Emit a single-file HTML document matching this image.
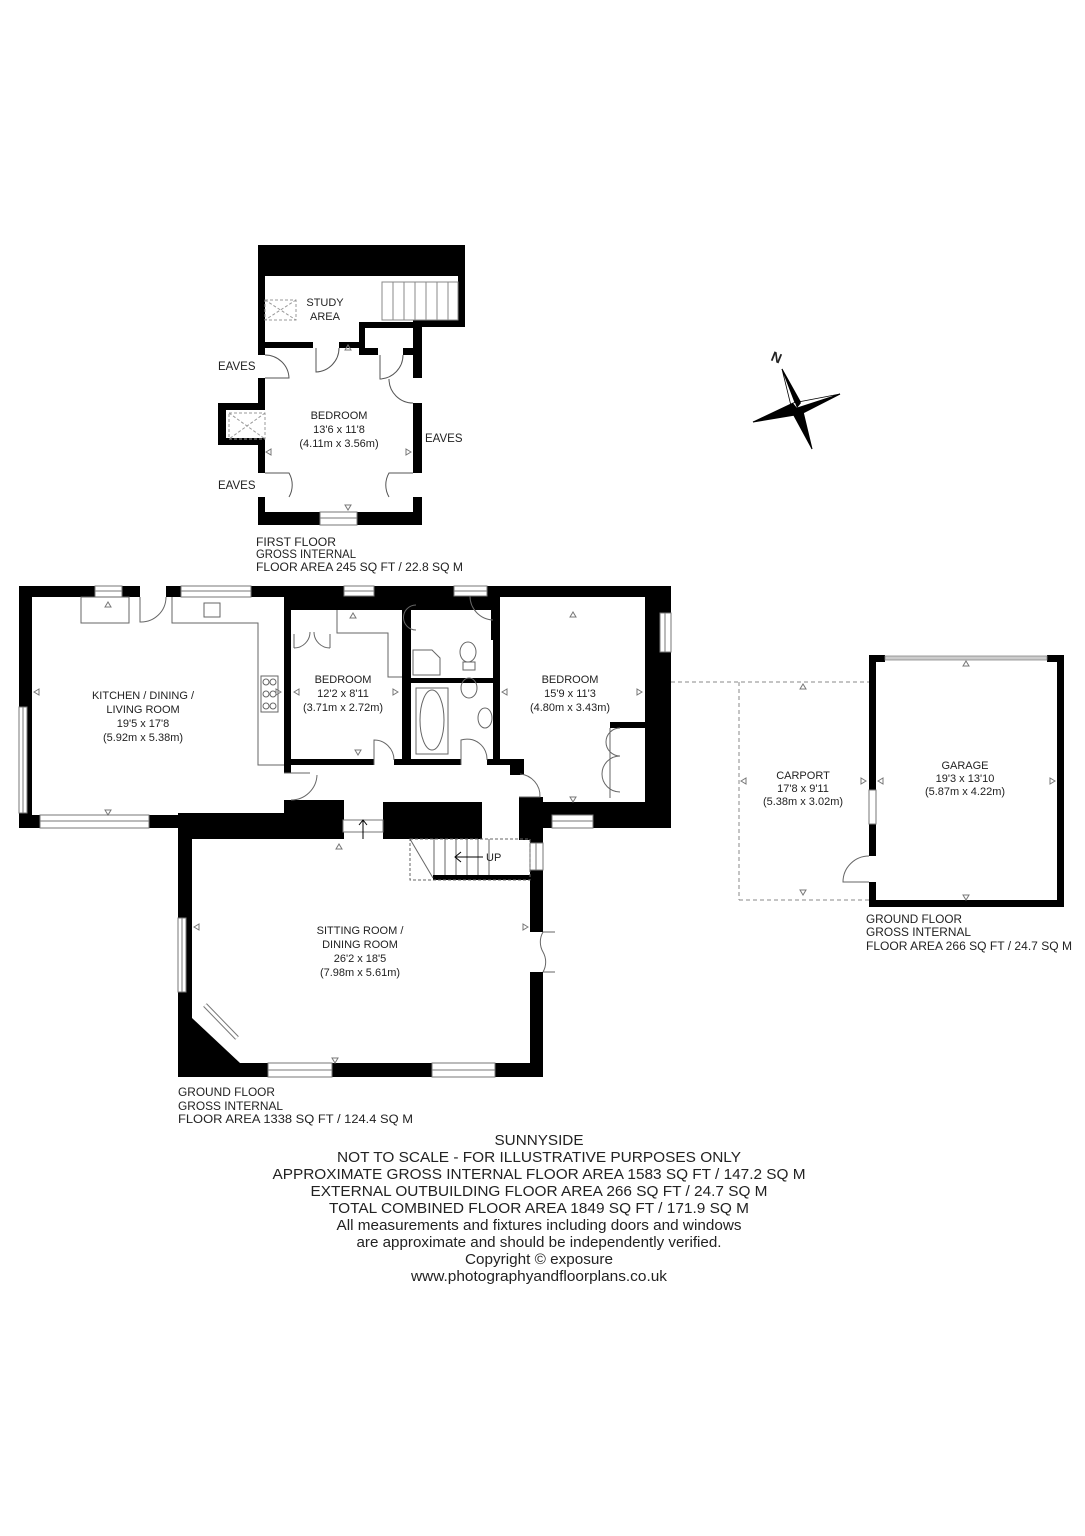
<!DOCTYPE html>
<html><head><meta charset="utf-8"><style>
html,body{margin:0;padding:0;background:#fff}
svg{display:block}
text{font-family:"Liberation Sans",Arial,sans-serif;fill:#222}
</style></head><body>
<svg width="1085" height="1536" viewBox="0 0 1085 1536" xmlns="http://www.w3.org/2000/svg">
<rect width="1085" height="1536" fill="#fff"/>

<!-- ============ FIRST FLOOR ============ -->
<g fill="#000">
  <rect x="258" y="245" width="207" height="31"/>
  <rect x="458" y="245" width="7" height="82"/>
  <rect x="413" y="320" width="52" height="7"/>
  <rect x="258" y="245" width="7" height="110"/>
  <rect x="258" y="378" width="7" height="32"/>
  <rect x="218" y="403" width="47" height="7"/>
  <rect x="218" y="403" width="8" height="42"/>
  <rect x="218" y="438" width="47" height="7"/>
  <rect x="258" y="438" width="7" height="35"/>
  <rect x="258" y="497" width="7" height="28"/>
  <rect x="258" y="512" width="164" height="13"/>
  <rect x="413" y="320" width="9" height="58"/>
  <rect x="413" y="403" width="9" height="70"/>
  <rect x="413" y="497" width="9" height="28"/>
  <rect x="264" y="342" width="49" height="6"/>
  <rect x="339" y="342" width="26" height="6"/>
  <rect x="359" y="322" width="6" height="33"/>
  <rect x="359" y="322" width="63" height="6"/>
  <rect x="359" y="348" width="19" height="7"/>
  <rect x="403" y="348" width="19" height="7"/>
</g>
<g fill="#fff" stroke="#888" stroke-width="1">
  <rect x="382" y="282" width="76" height="38"/>
  <line x1="393" y1="282" x2="393" y2="320"/><line x1="404" y1="282" x2="404" y2="320"/>
  <line x1="415" y1="282" x2="415" y2="320"/><line x1="426" y1="282" x2="426" y2="320"/>
  <line x1="437" y1="282" x2="437" y2="320"/><line x1="448" y1="282" x2="448" y2="320"/>
</g>
<g fill="none" stroke="#999" stroke-dasharray="3,2">
  <rect x="265" y="300" width="31" height="20"/><line x1="265" y1="300" x2="296" y2="320"/><line x1="296" y1="300" x2="265" y2="320"/>
  <rect x="229" y="413" width="36" height="26"/><line x1="229" y1="413" x2="265" y2="439"/><line x1="265" y1="413" x2="229" y2="439"/>
</g>
<g fill="none" stroke="#555" stroke-width="1">
  <path d="M265 378 L289 378 A24 24 0 0 0 265 355"/>
  <path d="M265 473 L289 473 A24 24 0 0 1 289 497"/>
  <path d="M413 473 L389 473 A24 24 0 0 0 389 497"/>
  <path d="M413 403 A24 24 0 0 1 389 379"/>
  <path d="M316 348 L316 372 A24 24 0 0 0 339 348"/>
  <path d="M380 355 L380 379 A24 24 0 0 0 403 355"/>
</g>
<rect x="320" y="512" width="37" height="13" fill="#fff" stroke="#777"/>
<line x1="320" y1="518" x2="357" y2="518" stroke="#777"/>
<g fill="none" stroke="#777"><path d="M345 350 l3 -5 l3 5z"/><path d="M266 452 l5 -3 l0 6z"/><path d="M411 452 l-5 -3 l0 6z"/><path d="M345 505 l3 5 l3 -5z"/></g>
<g font-size="11" text-anchor="middle">
  <text x="325" y="306">STUDY</text><text x="325" y="320">AREA</text>
  <text x="339" y="419">BEDROOM</text><text x="339" y="433">13'6 x 11'8</text><text x="339" y="447">(4.11m x 3.56m)</text>
</g>
<g font-size="11.5">
  <text x="218" y="370">EAVES</text><text x="425" y="442">EAVES</text><text x="218" y="489">EAVES</text>
  <text x="256" y="546" textLength="80" lengthAdjust="spacingAndGlyphs">FIRST FLOOR</text>
  <text x="256" y="558" textLength="100" lengthAdjust="spacingAndGlyphs">GROSS INTERNAL</text>
  <text x="256" y="571" textLength="207" lengthAdjust="spacingAndGlyphs">FLOOR AREA 245 SQ FT / 22.8 SQ M</text>
</g>

<!-- compass -->
<g>
  <polygon points="782,369 797,408 812,449 801,403" fill="#000" stroke="#000"/>
  <polygon points="782,369 797,408 812,449 793,414" fill="#fff" stroke="#000" stroke-width="0.8"/>
  <polygon points="840,394 797,408 753,422 801,414" fill="#000" stroke="#000"/>
  <polygon points="840,394 797,408 753,422 793,403" fill="#fff" stroke="#000" stroke-width="0.8"/>
  <polygon points="782,369 801,403 797,408" fill="#000"/>
  <polygon points="812,449 793,414 797,408" fill="#000"/>
  <polygon points="840,394 801,414 797,408" fill="#000"/>
  <polygon points="753,422 793,403 797,408" fill="#000"/>
  <text x="0" y="0" font-size="14" font-weight="bold" transform="translate(770,360) rotate(22)">N</text>
</g>

<!-- ============ GROUND FLOOR MAIN ============ -->
<g fill="#000">
  <rect x="19" y="586" width="121" height="11"/>
  <rect x="166" y="586" width="505" height="11"/>
  <rect x="19" y="586" width="13" height="242"/>
  <rect x="19" y="815" width="268" height="13"/>
  <rect x="284" y="597" width="7" height="176"/>
  <rect x="284" y="800" width="60" height="39"/>
  <rect x="178" y="813" width="165" height="26"/>
  <rect x="291" y="597" width="209" height="13"/>
  <rect x="402" y="597" width="9" height="168"/>
  <rect x="291" y="759" width="83" height="6"/>
  <rect x="394" y="759" width="67" height="6"/>
  <rect x="411" y="678" width="82" height="5"/>
  <rect x="487" y="759" width="37" height="6"/>
  <rect x="493" y="597" width="7" height="168"/>
  <rect x="491" y="597" width="9" height="43"/>
  <rect x="645" y="586" width="26" height="242"/>
  <rect x="524" y="802" width="147" height="26"/>
  <rect x="510" y="765" width="14" height="10"/>
  <rect x="519" y="797" width="24" height="43"/>
  <rect x="610" y="722" width="35" height="6"/>
  <rect x="383" y="802" width="99" height="37"/>
  <rect x="178" y="813" width="14" height="264"/>
  <rect x="178" y="1063" width="365" height="14"/>
  <rect x="530" y="840" width="13" height="92"/>
  <rect x="530" y="972" width="13" height="105"/>
  <rect x="433" y="875" width="97" height="5"/>
  <polygon points="192,1018 240,1063 192,1063"/>
</g>
<g fill="#000">
  <polygon points="335,597 344,610 374,610 383,597"/>
  <polygon points="445,597 454,610 487,610 496,597"/>
  <polygon points="645,600 658,613 658,652 645,662"/>
  <polygon points="543,815 552,802 593,802 602,815"/>
</g>
<g fill="#fff" stroke="#777" stroke-width="1">
  <rect x="95" y="586" width="27" height="11"/><line x1="95" y1="591" x2="122" y2="591"/>
  <rect x="181" y="586" width="70" height="11"/><line x1="181" y1="591" x2="251" y2="591"/>
  <rect x="344" y="586" width="30" height="10"/><line x1="344" y1="591" x2="374" y2="591"/>
  <rect x="454" y="586" width="33" height="10"/><line x1="454" y1="591" x2="487" y2="591"/>
  <rect x="660" y="613" width="11" height="39"/><line x1="665" y1="613" x2="665" y2="652"/>
  <rect x="552" y="815" width="41" height="13"/><line x1="552" y1="821" x2="593" y2="821"/>
  <rect x="19" y="707" width="8" height="106"/><line x1="23" y1="707" x2="23" y2="813"/>
  <rect x="40" y="815" width="109" height="13"/><line x1="40" y1="821" x2="149" y2="821"/>
  <rect x="530" y="843" width="13" height="27"/><line x1="536" y1="843" x2="536" y2="870"/>
  <rect x="178" y="918" width="8" height="74"/><line x1="182" y1="918" x2="182" y2="992"/>
  <rect x="268" y="1063" width="64" height="14"/><line x1="268" y1="1070" x2="332" y2="1070"/>
  <rect x="432" y="1063" width="63" height="14"/><line x1="432" y1="1070" x2="495" y2="1070"/>
  <rect x="343" y="820" width="40" height="12"/>
</g>
<line x1="205" y1="1005" x2="237" y2="1038" stroke="#777" stroke-width="5"/>
<line x1="205" y1="1005" x2="237" y2="1038" stroke="#fff" stroke-width="3"/>
<g fill="none" stroke="#666" stroke-width="1">
  <rect x="81" y="597" width="48" height="26"/>
  <polyline points="172,597 172,623 258,623 258,765 284,765"/>
  <rect x="204" y="603" width="16" height="14"/>
  <rect x="261" y="676" width="17" height="36"/>
  <circle cx="266" cy="682" r="3"/><circle cx="273" cy="682" r="3"/><circle cx="266" cy="694" r="3"/><circle cx="273" cy="694" r="3"/><circle cx="266" cy="706" r="3"/><circle cx="273" cy="706" r="3"/>
  <polyline points="337,610 337,633 388,633 388,677 402,677"/>
  <path d="M294 634 L294 648 M330 634 L330 648"/>
  <path d="M294 648 A16 16 0 0 0 310 632 M330 648 A16 16 0 0 1 314 632"/>
  <path d="M416 605 A10 10 0 0 0 416 630" />
  <polygon points="413,650 432,650 440,658 440,675 413,675"/>
  <rect x="416" y="688" width="32" height="66"/><ellipse cx="432" cy="720" rx="12" ry="30"/>
  <ellipse cx="468" cy="652" rx="8" ry="10"/><rect x="463" y="662" width="12" height="8"/><ellipse cx="469" cy="688" rx="8" ry="10"/>
  <ellipse cx="485" cy="718" rx="7" ry="10"/>
  <path d="M140 597 L140 622 A25 25 0 0 0 166 597"/>
  <path d="M374 765 L374 740 A20 20 0 0 1 394 760"/>
  <path d="M461 765 L461 740 A20 20 0 0 1 487 760"/>
  <path d="M493 620 A24 24 0 0 1 470 596"/>
  <path d="M284 773 L310 773 M291 800 A26 26 0 0 0 317 775"/>
  <path d="M519 797 L540 797 A22 22 0 0 0 520 774"/>
  <path d="M610 728 L610 798 M620 728 A14 14 0 0 0 620 756 A14 14 0 0 0 620 792"/>
  <path d="M543 932 L555 932 M543 972 L555 972 M543 932 A20 20 0 0 0 543 952 A20 20 0 0 1 543 972"/>
  <rect x="410" y="839" width="120" height="41" stroke-dasharray="3,2"/>
  <line x1="410" y1="839" x2="433" y2="878"/>
  <line x1="434" y1="839" x2="434" y2="875"/><line x1="445" y1="839" x2="445" y2="875"/><line x1="456" y1="839" x2="456" y2="875"/><line x1="467" y1="839" x2="467" y2="875"/><line x1="478" y1="839" x2="478" y2="875"/><line x1="489" y1="839" x2="489" y2="875"/>
  <line x1="455" y1="857" x2="483" y2="857" stroke="#000"/><path d="M461 852 L455 857 L461 862" stroke="#000"/>
  <line x1="363" y1="820" x2="363" y2="839" stroke="#000"/><path d="M359 825 L363 820 L367 825" stroke="#000"/>
</g>
<g fill="none" stroke="#777"><path d="M105 607 l3 -5 l3 5z"/><path d="M350 618 l3 -5 l3 5z"/><path d="M570 617 l3 -5 l3 5z"/>
<path d="M34 692 l5 -3 l0 6z"/><path d="M281 692 l-5 -3 l0 6z"/><path d="M294 692 l5 -3 l0 6z"/><path d="M398 692 l-5 -3 l0 6z"/><path d="M502 692 l5 -3 l0 6z"/><path d="M642 692 l-5 -3 l0 6z"/>
<path d="M105 810 l3 5 l3 -5z"/><path d="M355 750 l3 5 l3 -5z"/><path d="M570 797 l3 5 l3 -5z"/>
<path d="M336 849 l3 -5 l3 5z"/><path d="M194 927 l5 -3 l0 6z"/><path d="M528 927 l-5 -3 l0 6z"/><path d="M332 1058 l3 5 l3 -5z"/></g>
<g font-size="11" text-anchor="middle">
  <text x="143" y="699">KITCHEN / DINING /</text><text x="143" y="713">LIVING ROOM</text><text x="143" y="727">19'5 x 17'8</text><text x="143" y="741">(5.92m x 5.38m)</text>
  <text x="343" y="683">BEDROOM</text><text x="343" y="697">12'2 x 8'11</text><text x="343" y="711">(3.71m x 2.72m)</text>
  <text x="570" y="683">BEDROOM</text><text x="570" y="697">15'9 x 11'3</text><text x="570" y="711">(4.80m x 3.43m)</text>
  <text x="360" y="934">SITTING ROOM /</text><text x="360" y="948">DINING ROOM</text><text x="360" y="962">26'2 x 18'5</text><text x="360" y="976">(7.98m x 5.61m)</text>
</g>
<text x="486" y="861" font-size="11">UP</text>
<g font-size="11.5">
  <text x="178" y="1096" textLength="97" lengthAdjust="spacingAndGlyphs">GROUND FLOOR</text>
  <text x="178" y="1110" textLength="105" lengthAdjust="spacingAndGlyphs">GROSS INTERNAL</text>
  <text x="178" y="1123" textLength="235" lengthAdjust="spacingAndGlyphs">FLOOR AREA 1338 SQ FT / 124.4 SQ M</text>
</g>

<!-- ============ GARAGE ============ -->
<g fill="#000">
  <rect x="869" y="655" width="16" height="7"/><rect x="1047" y="655" width="17" height="7"/>
  <rect x="1057" y="655" width="7" height="252"/>
  <rect x="869" y="900" width="195" height="7"/>
  <rect x="869" y="655" width="7" height="135"/>
  <rect x="869" y="824" width="7" height="32"/>
  <rect x="869" y="882" width="7" height="25"/>
</g>
<rect x="885" y="656" width="162" height="4" fill="#ccc" stroke="#888" stroke-width="0.8"/>
<rect x="869" y="790" width="7" height="34" fill="#fff" stroke="#777"/>
<path d="M869 882 L843 882 A26 26 0 0 1 869 856" fill="none" stroke="#666"/>
<g fill="none" stroke="#888" stroke-dasharray="4,3">
  <line x1="671" y1="682" x2="869" y2="682"/>
  <line x1="739" y1="682" x2="739" y2="900"/>
  <line x1="739" y1="900" x2="869" y2="900"/>
</g>
<g fill="none" stroke="#777"><path d="M800 689 l3 -5 l3 5z"/><path d="M800 890 l3 5 l3 -5z"/><path d="M741 781 l5 -3 l0 6z"/><path d="M866 781 l-5 -3 l0 6z"/><path d="M878 781 l5 -3 l0 6z"/><path d="M1055 781 l-5 -3 l0 6z"/><path d="M963 666 l3 -5 l3 5z"/><path d="M963 895 l3 5 l3 -5z"/></g>
<g font-size="11" text-anchor="middle">
  <text x="803" y="779">CARPORT</text><text x="803" y="792">17'8 x 9'11</text><text x="803" y="805">(5.38m x 3.02m)</text>
  <text x="965" y="769">GARAGE</text><text x="965" y="782">19'3 x 13'10</text><text x="965" y="795">(5.87m x 4.22m)</text>
</g>
<g font-size="11.5">
  <text x="866" y="923" textLength="96" lengthAdjust="spacingAndGlyphs">GROUND FLOOR</text>
  <text x="866" y="936" textLength="105" lengthAdjust="spacingAndGlyphs">GROSS INTERNAL</text>
  <text x="866" y="950" textLength="206" lengthAdjust="spacingAndGlyphs">FLOOR AREA 266 SQ FT / 24.7 SQ M</text>
</g>

<!-- ============ FOOTER ============ -->
<g font-size="14.5" text-anchor="middle">
  <text x="539" y="1145" textLength="89" lengthAdjust="spacingAndGlyphs">SUNNYSIDE</text>
  <text x="539" y="1162" textLength="404" lengthAdjust="spacingAndGlyphs">NOT TO SCALE - FOR ILLUSTRATIVE PURPOSES ONLY</text>
  <text x="539" y="1179" textLength="533" lengthAdjust="spacingAndGlyphs">APPROXIMATE GROSS INTERNAL FLOOR AREA 1583 SQ FT / 147.2 SQ M</text>
  <text x="539" y="1196" textLength="457" lengthAdjust="spacingAndGlyphs">EXTERNAL OUTBUILDING FLOOR AREA 266 SQ FT / 24.7 SQ M</text>
  <text x="539" y="1213" textLength="420" lengthAdjust="spacingAndGlyphs">TOTAL COMBINED FLOOR AREA 1849 SQ FT / 171.9 SQ M</text>
  <text x="539" y="1230" textLength="405" lengthAdjust="spacingAndGlyphs">All measurements and fixtures including doors and windows</text>
  <text x="539" y="1247" textLength="365" lengthAdjust="spacingAndGlyphs">are approximate and should be independently verified.</text>
  <text x="539" y="1264" textLength="148" lengthAdjust="spacingAndGlyphs">Copyright © exposure</text>
  <text x="539" y="1281" textLength="256" lengthAdjust="spacingAndGlyphs">www.photographyandfloorplans.co.uk</text>
</g>
</svg>
</body></html>
